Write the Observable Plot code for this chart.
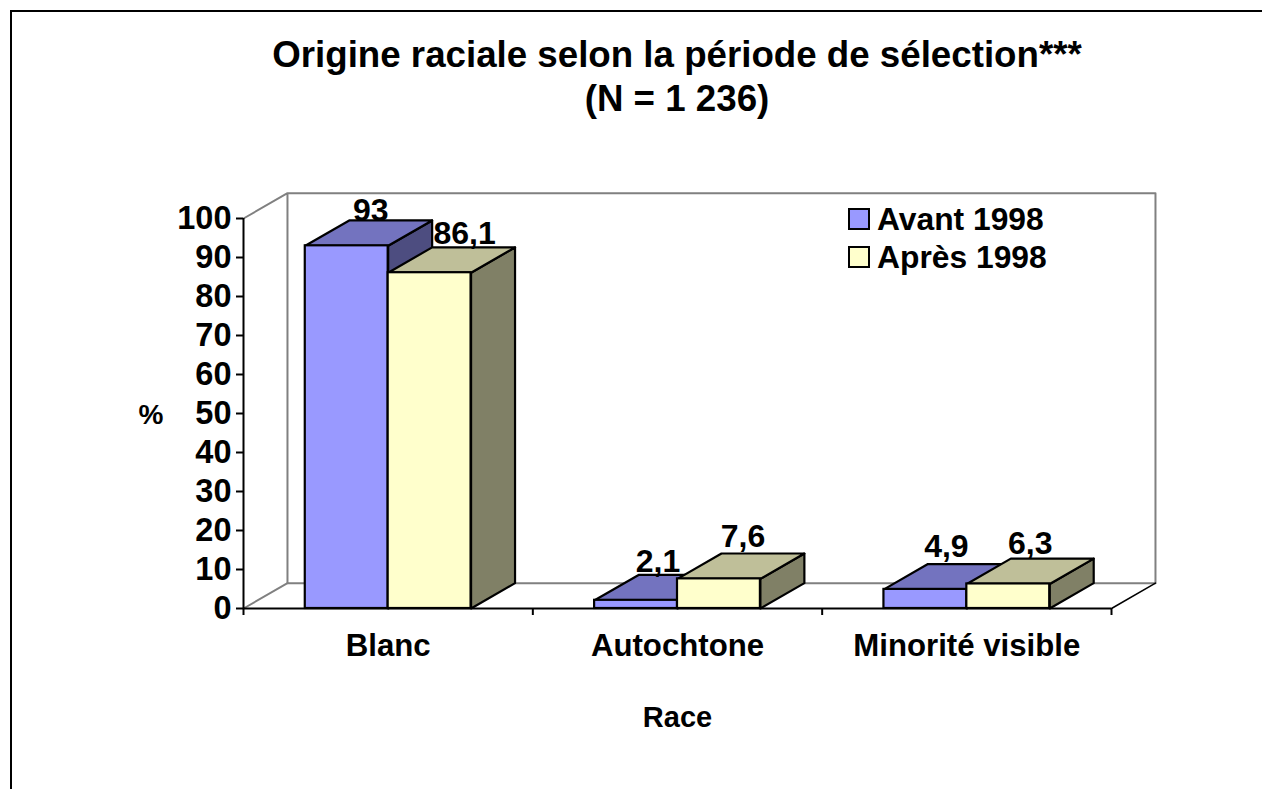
<!DOCTYPE html>
<html lang="fr">
<head>
<meta charset="utf-8">
<script src="https://cdn.jsdelivr.net/npm/d3@7"></script>
<script src="https://cdn.jsdelivr.net/npm/@observablehq/plot@0.6"></script>
<style>
  html, body { margin: 0; padding: 0; background: #fff; overflow: hidden; }
  body { width: 1262px; height: 789px; position: relative; font-family: "Liberation Sans", Arial, sans-serif; color: #000; }
  #chart { position: absolute; left: 0; top: 0; width: 1262px; height: 789px; }
  #frame { position: absolute; left: 10px; top: 10px; width: 1252px; height: 779px; border-left: 2px solid #000; border-top: 2px solid #000; box-sizing: border-box; }
  #title { position: absolute; left: 177px; width: 1000px; top: 33px; text-align: center; font-weight: bold; font-size: 36.7px; line-height: 43.5px; white-space: nowrap; }
  #legend { position: absolute; left: 848px; top: 200px; font-weight: bold; font-size: 31.8px; }
  .item { display: flex; align-items: center; height: 38px; }
  .sw { border: 2px solid #000; box-sizing: border-box; width: 22px; height: 22px; margin-right: 7px; }
</style>
</head>
<body>
<div id="chart"></div>
<div id="frame"></div>
<div id="title">Origine raciale selon la période de sélection***<br>(N = 1 236)</div>
<div id="legend"></div>
<script>
const categories = ["Blanc", "Autochtone", "Minorité visible"];
const seriesNames = ["Avant 1998", "Après 1998"];
const avant = [93, 2.1, 4.9];
const apres = [86.1, 7.6, 6.3];
const avantLabels = ["93", "2,1", "4,9"];
const apresLabels = ["86,1", "7,6", "6,3"];
const yTicks = [0, 10, 20, 30, 40, 50, 60, 70, 80, 90, 100];
const axisTitleX = "Race";
const axisTitleY = "%";

// Appearance of the faces of each series
const faces = [
  {front: "#9999ff", top: "#7373bf", side: "#4d4d80"},
  {front: "#ffffcc", top: "#bfbf99", side: "#808066"}
];
// Oblique projection, in data units
const depthX = 0.152, depthY = 6.5, barW = 0.2865;
// Label nudges in pixels: [series][category]
const nudges = [
  [{dx: -1, dy: 2}, {dx: -3, dy: -2}, {dx: -4, dy: -6}],
  [{dx: 10, dy: -2}, {dx: -1, dy: -6}, {dx: -3, dy: -4}]
];

const ink = {stroke: "#000", strokeWidth: 2.2, curve: "linear-closed"};
const poly = (pts, fill, extra = {}) =>
  Plot.line(pts.map(([x, y]) => ({x, y})), {x: "x", y: "y", fill, ...ink, ...extra});

const bar = (i, s, v) => {
  const x0 = i + 0.5 - (s === 0 ? barW : 0), x1 = x0 + barW;
  const f = faces[s];
  return [
    poly([[x1, 0], [x1 + depthX, depthY], [x1 + depthX, v + depthY], [x1, v]], f.side),
    poly([[x0, v], [x1, v], [x1 + depthX, v + depthY], [x0 + depthX, v + depthY]], f.top),
    Plot.rect([{}], {x1: () => x0, x2: () => x1, y1: () => 0, y2: () => v, fill: f.front, stroke: "#000", strokeWidth: 2.2})
  ];
};

const wallTop = 100 + depthY;
const wall = {stroke: "#808080", strokeWidth: 2, fill: "none"};
const seg = (pts, style) =>
  Plot.line(pts.map(([x, y]) => ({x, y})), {x: "x", y: "y", ...style});

const barMarks = categories.flatMap((c, i) => [...bar(i, 0, avant[i]), ...bar(i, 1, apres[i])]);

const valueLabels = [avantLabels, apresLabels].flatMap((labels, s) =>
  labels.map((text, i) => {
    const v = (s === 0 ? avant : apres)[i];
    const cx = i + 0.5 + (s === 0 ? -barW / 2 : barW / 2) + depthX / 2;
    return Plot.text([{x: cx, y: v + depthY, text}], {
      x: "x", y: "y", text: "text", lineAnchor: "bottom", fontSize: 32,
      dx: 3 + nudges[s][i].dx, dy: -1 + nudges[s][i].dy
    });
  })
);

const chart = Plot.plot({
  width: 1262,
  height: 789,
  marginLeft: 243,
  marginRight: 151,
  marginTop: 218,
  marginBottom: 181,
  style: {fontFamily: "'Liberation Sans', Arial, sans-serif", fontSize: "30px", fontWeight: "bold", color: "#000", background: "transparent", overflow: "visible"},
  x: {domain: [0, 3], nice: false},
  y: {domain: [0, 100], nice: false},
  marks: [
    seg([[0, 100], [depthX, wallTop], [3 + depthX, wallTop], [3 + depthX, depthY], [depthX, depthY], [depthX, wallTop]], wall),
    seg([[0, 0], [depthX, depthY]], wall),
    seg([[3, 0], [3 + depthX, depthY]], {stroke: "#000", strokeWidth: 1.5, fill: "none"}),
    Plot.ruleY([0], {stroke: "#000", strokeWidth: 2}),
    Plot.ruleX([0], {stroke: "#000", strokeWidth: 2}),
    Plot.axisY({ticks: yTicks, tickSize: 7, tickPadding: 5, strokeWidth: 2, label: null, tickFormat: d => String(d), fontSize: 32.5}),
    Plot.axisX({ticks: [0, 1, 2, 3], tickSize: 7, strokeWidth: 2, text: null, label: null}),
    Plot.axisX({
      ticks: categories.map((c, i) => i + 0.5),
      tickFormat: d => categories[d - 0.5],
      tickSize: 0, tickPadding: 25, lineWidth: 20, label: null, fontSize: 31.2
    }),
    Plot.axisX({
      ticks: [], tickSize: 0,
      label: axisTitleX, labelAnchor: "center", labelArrow: "none", labelOffset: 118, fontSize: 29
    }),
    ...barMarks,
    ...valueLabels,
    Plot.text([axisTitleY], {frameAnchor: "left", dx: -93 - 12, dy: 2, text: d => d, fontSize: 28})
  ]
});
document.getElementById("chart").append(chart);

const legend = document.getElementById("legend");
seriesNames.forEach((name, s) => {
  const item = document.createElement("div");
  item.className = "item";
  const sw = document.createElement("span");
  sw.className = "sw";
  sw.style.background = faces[s].front;
  const label = document.createElement("span");
  label.textContent = name;
  item.append(sw, label);
  legend.append(item);
});
</script>
</body>
</html>
